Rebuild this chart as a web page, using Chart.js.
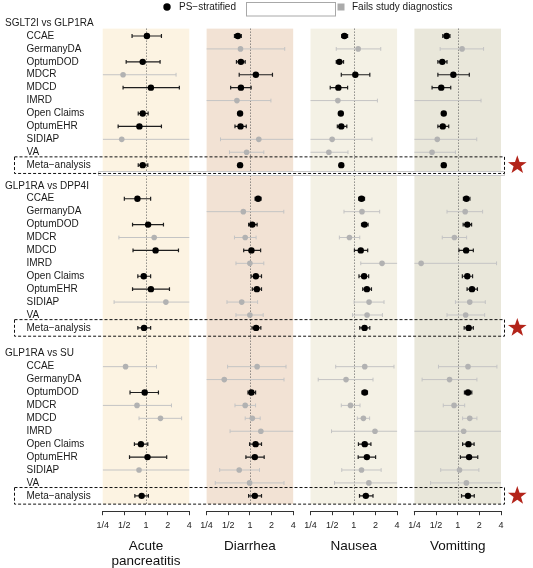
<!DOCTYPE html>
<html>
<head>
<meta charset="utf-8">
<script src="https://cdn.jsdelivr.net/npm/chart.js@4.4.1/dist/chart.umd.min.js"></script>
<style>
  html, body { margin: 0; padding: 0; background: #ffffff; }
  #wrap { position: relative; width: 533px; height: 568px; }
</style>
</head>
<body>
<div id="wrap"><canvas id="forest" width="533" height="568"></canvas></div>
<script>
// ---- labels ----
const comparisons = ['SGLT2I vs GLP1RA', 'GLP1RA vs DPP4I', 'GLP1RA vs SU'];
const databases = ['CCAE', 'GermanyDA', 'OptumDOD', 'MDCR', 'MDCD', 'IMRD',
                   'Open Claims', 'OptumEHR', 'SIDIAP', 'VA', 'Meta\u2212analysis'];
const outcomeTitles = [['Acute', 'pancreatitis'], ['Diarrhea'], ['Nausea'], ['Vomitting']];
const tickValues = [0.25, 0.5, 1, 2, 4];
const tickLabels = ['1/4', '1/2', '1', '2', '4'];

// ---- hazard ratios: 11 rows per comparison, in comparison order (null = no estimate) ----
// Acute pancreatitis
const pancreatitisEst  = [1.03, null, 0.90, 0.48, 1.17, null, 0.90, 0.81, 0.46, null, 0.90,
                          0.76, null, 1.07, 1.30, 1.36, null, 0.93, 1.17, 1.89, null, 0.94,
                          0.52, null, 0.96, 0.75, 1.59, null, 0.85, 1.05, 0.80, null, 0.87];
const pancreatitisLow  = [0.64, null, 0.53, 0.22, 0.48, null, 0.78, 0.41, 0.22, null, 0.78,
                          0.50, null, 0.65, 0.42, 0.66, null, 0.77, 0.65, 0.36, null, 0.77,
                          0.22, null, 0.60, 0.22, 0.80, null, 0.69, 0.59, 0.22, null, 0.70];
const pancreatitisHigh = [1.64, null, 1.57, 2.62, 2.91, null, 1.07, 1.64, 4.60, null, 1.06,
                          1.16, null, 1.75, 4.50, 2.83, null, 1.16, 2.12, 4.60, null, 1.16,
                          1.40, null, 1.49, 2.26, 3.13, null, 1.06, 1.94, 4.60, null, 1.08];
const pancreatitisFails = [0, 0, 0, 1, 0, 0, 0, 0, 1, 0, 0,
                           0, 0, 0, 1, 0, 0, 0, 0, 1, 0, 0,
                           1, 0, 0, 1, 1, 0, 0, 0, 1, 0, 0];
// Diarrhea
const diarrheaEst  = [0.68, 0.74, 0.75, 1.21, 0.75, 0.66, 0.73, 0.74, 1.33, 0.90, 0.73,
                      1.30, 0.81, 1.08, 0.86, 1.05, 1.00, 1.21, 1.25, 0.77, 1.00, 1.22,
                      1.26, 0.44, 1.05, 0.86, 1.08, 1.42, 1.20, 1.17, 0.71, 0.99, 1.17];
const diarrheaLow  = [0.61, 0.22, 0.65, 0.71, 0.54, 0.22, 0.70, 0.62, 0.39, 0.52, 0.70,
                      1.18, 0.22, 0.96, 0.61, 0.82, 0.64, 1.04, 1.08, 0.48, 0.64, 1.07,
                      0.49, 0.22, 0.94, 0.62, 0.86, 0.53, 0.99, 0.88, 0.38, 0.33, 0.96];
const diarrheaHigh = [0.76, 3.05, 0.86, 2.06, 1.04, 1.96, 0.77, 0.89, 4.60, 1.56, 0.76,
                      1.43, 2.96, 1.26, 1.22, 1.41, 1.56, 1.45, 1.45, 1.28, 1.53, 1.42,
                      3.18, 2.98, 1.20, 1.20, 1.39, 4.50, 1.45, 1.58, 1.36, 2.98, 1.45];
const diarrheaFails = [0, 1, 0, 0, 0, 1, 0, 0, 1, 1, 0,
                       0, 1, 0, 1, 0, 1, 0, 0, 1, 1, 0,
                       1, 1, 0, 1, 1, 1, 0, 0, 1, 1, 0];
// Nausea
const nauseaEst  = [0.74, 1.15, 0.63, 1.05, 0.61, 0.60, 0.66, 0.67, 0.50, 0.45, 0.67,
                    1.28, 1.30, 1.41, 0.87, 1.25, 2.47, 1.39, 1.52, 1.63, 1.53, 1.41,
                    1.42, 0.78, 1.42, 0.90, 1.36, 1.97, 1.42, 1.52, 1.28, 1.62, 1.47];
const nauseaLow  = [0.68, 0.57, 0.57, 0.67, 0.47, 0.22, 0.63, 0.59, 0.22, 0.22, 0.64,
                    1.17, 0.73, 1.28, 0.63, 1.02, 1.25, 1.18, 1.33, 1.01, 0.96, 1.21,
                    0.56, 0.32, 1.30, 0.67, 1.12, 0.49, 1.16, 1.15, 0.68, 0.54, 1.20];
const nauseaHigh = [0.82, 2.37, 0.72, 1.67, 0.82, 2.13, 0.69, 0.80, 1.79, 0.83, 0.70,
                    1.41, 2.29, 1.58, 1.21, 1.56, 4.60, 1.61, 1.76, 2.63, 2.50, 1.67,
                    3.62, 1.85, 1.55, 1.22, 1.66, 4.50, 1.73, 2.01, 2.40, 4.50, 1.85];
const nauseaFails = [0, 1, 0, 0, 0, 1, 0, 0, 1, 1, 0,
                     0, 1, 0, 1, 0, 1, 0, 0, 1, 1, 0,
                     1, 1, 0, 1, 1, 1, 0, 0, 1, 1, 0];
// Vomitting
const vomitingEst  = [0.70, 1.15, 0.61, 0.87, 0.59, 0.20, 0.64, 0.62, 0.52, 0.44, 0.64,
                      1.32, 1.27, 1.36, 0.90, 1.31, 0.31, 1.36, 1.58, 1.47, 1.29, 1.42,
                      1.39, 0.77, 1.39, 0.89, 1.47, 1.21, 1.41, 1.44, 1.06, 1.32, 1.39];
const vomitingLow  = [0.62, 0.57, 0.53, 0.53, 0.44, 0.15, 0.61, 0.53, 0.22, 0.22, 0.61,
                      1.20, 0.71, 1.19, 0.61, 1.04, 0.22, 1.16, 1.35, 0.93, 0.71, 1.23,
                      0.54, 0.32, 1.24, 0.63, 1.17, 0.22, 1.17, 1.09, 0.58, 0.42, 1.13];
const vomitingHigh = [0.78, 2.29, 0.71, 1.45, 0.80, 2.11, 0.67, 0.75, 1.84, 0.93, 0.67,
                      1.48, 2.22, 1.56, 1.33, 1.65, 3.47, 1.61, 1.88, 2.42, 2.37, 1.65,
                      3.51, 1.85, 1.57, 1.25, 1.85, 4.50, 1.69, 1.90, 1.97, 4.50, 1.70];
const vomitingFails = [0, 1, 0, 0, 0, 1, 0, 0, 1, 1, 0,
                       0, 1, 0, 1, 0, 1, 0, 0, 1, 1, 0,
                       1, 1, 0, 1, 1, 1, 0, 0, 1, 1, 0];

const outcomeSeries = [
  { est: pancreatitisEst, low: pancreatitisLow, high: pancreatitisHigh, fails: pancreatitisFails },
  { est: diarrheaEst, low: diarrheaLow, high: diarrheaHigh, fails: diarrheaFails },
  { est: nauseaEst, low: nauseaLow, high: nauseaHigh, fails: nauseaFails },
  { est: vomitingEst, low: vomitingLow, high: vomitingHigh, fails: vomitingFails },
];

// ---- layout in axis units ----
const PANEL_STEP = 4.8;            // log2 units from one panel centre to the next
const LOG_MIN = -2, LOG_MAX = 2;   // each panel spans 1/4 .. 4
const headerRows = [0, 12.6, 25.6];
const Y_MIN = -1.09, Y_MAX = 37.79;
const SHADE_TOP = 0.43, SHADE_BOTTOM = 37.24;
const panelColors = ['#fcf3e2', '#f2e2d4', '#f4f1e5', '#e9e7da'];
const FONT = "'Liberation Sans', Arial, Helvetica, sans-serif";

const rowValues = [], rowLabels = [];
headerRows.forEach(h => databases.forEach((d, i) => { rowValues.push(h + 1 + i); rowLabels.push(d); }));

const clampLog = v => Math.max(LOG_MIN, Math.min(LOG_MAX, Math.log2(v)));
const inRange = v => { const l = Math.log2(v); return l >= LOG_MIN - 1e-9 && l <= LOG_MAX + 1e-9; };
const toX = (p, v) => p * PANEL_STEP + clampLog(v);

// ---- datasets: whiskers (line with cap points) and estimates ----
const styles = {
  pass: { line: '#1e1e1e', point: '#000000', radius: 3.2, width: 1.2, order: 0 },
  fail: { line: '#c4c4c4', point: '#b2b2b2', radius: 2.8, width: 1.0, order: 2 },
};
const datasets = [];
outcomeSeries.forEach((s, p) => {
  ['pass', 'fail'].forEach(state => {
    const whiskers = [], estimates = [];
    s.est.forEach((e, r) => {
      if (e == null) return;
      if ((s.fails[r] === 1) !== (state === 'fail')) return;
      const y = rowValues[r];
      whiskers.push({ x: toX(p, s.low[r]), y, cap: inRange(s.low[r]) });
      whiskers.push({ x: toX(p, s.high[r]), y, cap: inRange(s.high[r]) });
      whiskers.push({ x: null, y: null });
      if (inRange(e)) estimates.push({ x: toX(p, e), y });
    });
    const st = styles[state];
    datasets.push({
      type: 'scatter', data: estimates, order: st.order,
      pointStyle: 'circle', pointRadius: st.radius, pointHoverRadius: st.radius,
      pointBackgroundColor: st.point, pointBorderColor: st.point, pointBorderWidth: 0,
    });
    datasets.push({
      type: 'scatter', data: whiskers, order: st.order + 1,
      showLine: true, spanGaps: false, borderColor: st.line, borderWidth: st.width,
      pointStyle: 'line', rotation: 90,
      pointRadius: ctx => (ctx.raw && ctx.raw.cap ? 1.9 : 0), pointHoverRadius: 0,
      pointBorderColor: st.line, pointBorderWidth: st.width,
    });
  });
});

// ---- decorations: panel backgrounds, reference lines, boxes, legend, titles ----
function drawStar(ctx, cx, cy, R, r) {
  ctx.beginPath();
  for (let i = 0; i < 10; i++) {
    const a = -Math.PI / 2 + i * Math.PI / 5;
    const rad = i % 2 === 0 ? R : r;
    ctx.lineTo(cx + rad * Math.cos(a), cy + rad * Math.sin(a));
  }
  ctx.closePath();
  ctx.fill();
}

const decorations = {
  id: 'decorations',
  beforeDatasetsDraw(chart) {
    const { ctx, scales: { x, y } } = chart;
    const top = y.getPixelForValue(SHADE_TOP), bottom = y.getPixelForValue(SHADE_BOTTOM);
    ctx.save();
    outcomeTitles.forEach((t, p) => {
      const l = x.getPixelForValue(p * PANEL_STEP + LOG_MIN);
      const r = x.getPixelForValue(p * PANEL_STEP + LOG_MAX);
      ctx.fillStyle = panelColors[p];
      ctx.fillRect(l, top, r - l, bottom - top);
      const c = Math.round(x.getPixelForValue(p * PANEL_STEP)) + 0.5;
      ctx.strokeStyle = '#5a5a5a';
      ctx.lineWidth = 1;
      ctx.setLineDash([1, 2]);
      ctx.beginPath(); ctx.moveTo(c, top); ctx.lineTo(c, bottom); ctx.stroke();
    });
    ctx.restore();
  },
  afterDatasetsDraw(chart) {
    const { ctx, scales: { x, y } } = chart;
    ctx.save();
    // thin empty key strip between the first two comparisons
    ctx.fillStyle = '#ffffff';
    ctx.strokeStyle = '#c8c8c8';
    ctx.lineWidth = 1;
    ctx.fillRect(98.5, 171.5, 406, 4);
    ctx.strokeRect(98.5, 171.5, 406, 4);
    // dashed frames and stars for the meta-analysis rows
    headerRows.forEach(h => {
      const yc = y.getPixelForValue(h + databases.length);
      ctx.strokeStyle = '#111111';
      ctx.lineWidth = 1;
      ctx.setLineDash([3, 2]);
      ctx.strokeRect(14.5, yc - 8.3, 490, 16.6);
      ctx.setLineDash([]);
      ctx.fillStyle = '#b3241a';
      drawStar(ctx, 517.3, yc, 9.8, 3.9);
    });
    ctx.restore();
  },
  afterDraw(chart) {
    const { ctx, scales: { x, y }, chartArea } = chart;
    ctx.save();
    // comparison headers
    ctx.fillStyle = '#1a1a1a';
    ctx.font = `10px ${FONT}`;
    ctx.textAlign = 'left';
    ctx.textBaseline = 'middle';
    comparisons.forEach((c, g) => ctx.fillText(c, 5, y.getPixelForValue(headerRows[g])));
    // axis line for each panel
    ctx.strokeStyle = '#333333';
    ctx.lineWidth = 1;
    outcomeTitles.forEach((t, p) => {
      const l = x.getPixelForValue(p * PANEL_STEP + LOG_MIN);
      const r = x.getPixelForValue(p * PANEL_STEP + LOG_MAX);
      const yy = Math.round(chartArea.bottom) + 0.5;
      ctx.beginPath(); ctx.moveTo(l - 0.5, yy); ctx.lineTo(r + 0.5, yy); ctx.stroke();
      // outcome titles
      const c = x.getPixelForValue(p * PANEL_STEP);
      ctx.fillStyle = '#111111';
      ctx.font = `13.5px ${FONT}`;
      ctx.textAlign = 'center';
      t.forEach((line, i) => ctx.fillText(line, c, 546 + i * 15.5));
    });
    // legend
    ctx.textAlign = 'left';
    ctx.font = `10px ${FONT}`;
    ctx.fillStyle = '#000000';
    ctx.beginPath(); ctx.arc(167, 7, 3.7, 0, Math.PI * 2); ctx.fill();
    ctx.fillStyle = '#1a1a1a';
    ctx.fillText('PS\u2212stratified', 179, 7);
    ctx.fillStyle = '#ffffff';
    ctx.strokeStyle = '#a8a8a8';
    ctx.fillRect(246.5, 2.5, 89, 13.5);
    ctx.strokeRect(246.5, 2.5, 89, 13.5);
    ctx.fillStyle = '#ababab';
    ctx.fillRect(337.5, 3.5, 7, 7);
    ctx.fillStyle = '#1a1a1a';
    ctx.fillText('Fails study diagnostics', 352, 7);
    ctx.restore();
  },
};

Chart.defaults.font.family = FONT;

new Chart(document.getElementById('forest'), {
  type: 'scatter',
  data: { datasets },
  options: {
    responsive: false,
    animation: false,
    events: [],
    layout: { padding: { left: 26.5, right: 32, top: 0, bottom: 0 } },
    plugins: { legend: { display: false }, tooltip: { enabled: false } },
    scales: {
      x: {
        type: 'linear',
        bounds: 'data',
        min: LOG_MIN,
        max: (outcomeTitles.length - 1) * PANEL_STEP + LOG_MAX,
        afterBuildTicks: scale => {
          scale.ticks = [];
          outcomeTitles.forEach((t, p) => tickValues.forEach(v =>
            scale.ticks.push({ value: p * PANEL_STEP + Math.log2(v) })));
        },
        afterFit: scale => { scale.height = 56.8; },
        ticks: {
          autoSkip: false, maxRotation: 0, padding: 5,
          color: '#222222', font: { size: 9 },
          callback: (value, index) => tickLabels[index % tickLabels.length],
        },
        grid: { drawOnChartArea: false, drawTicks: true, tickLength: 4, tickColor: '#333333', tickWidth: 1 },
        border: { display: false },
      },
      y: {
        type: 'linear',
        bounds: 'data',
        reverse: true,
        min: Y_MIN,
        max: Y_MAX,
        afterBuildTicks: scale => { scale.ticks = rowValues.map(v => ({ value: v })); },
        afterFit: scale => { scale.width = 76.2; },
        ticks: {
          autoSkip: false, crossAlign: 'far', color: '#1a1a1a', font: { size: 10 },
          callback: (value, index) => rowLabels[index],
        },
        grid: { display: false, drawTicks: false },
        border: { display: false },
      },
    },
  },
  plugins: [decorations],
});
</script>
</body>
</html>
